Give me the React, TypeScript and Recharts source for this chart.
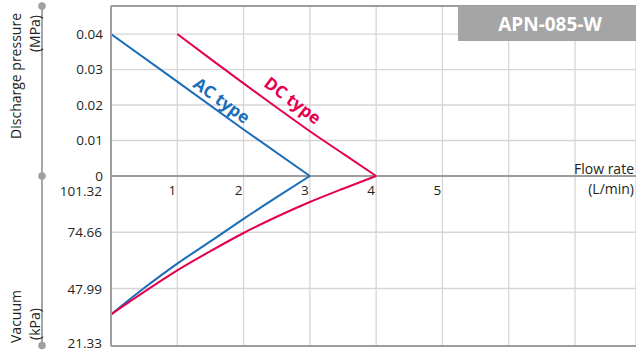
import React from 'react';
import { LineChart, Line, XAxis, YAxis, CartesianGrid, ReferenceLine } from 'recharts';

// flow rate (L/min)
const FLOW_TICKS = [0, 1, 2, 3, 4, 5, 6, 7];
const FLOW_LABELS = [1, 2, 3, 4, 5];
// discharge pressure (MPa) and vacuum (kPa) ticks
const PRESSURE_TICKS = [0, 0.01, 0.02, 0.03, 0.04];
const VACUUM_TICKS = [21.33, 47.99, 74.66, 101.32];

const acDischarge = [
  { q: 0, p: 0.04 },
  { q: 1, p: 0.0266 },
  { q: 2, p: 0.0131 },
  { q: 3, p: 0 },
];
const dcDischarge = [
  { q: 1, p: 0.04 },
  { q: 1.5, p: 0.033 },
  { q: 2, p: 0.0261 },
  { q: 2.5, p: 0.0193 },
  { q: 3, p: 0.0126 },
  { q: 3.5, p: 0.0063 },
  { q: 4, p: 0 },
];
const acVacuum = [
  { q: 0, v: 35.7 },
  { q: 0.5, v: 48.2 },
  { q: 1, v: 59.8 },
  { q: 1.5, v: 70.3 },
  { q: 2, v: 81.0 },
  { q: 2.5, v: 91.3 },
  { q: 3, v: 101.32 },
];
const dcVacuum = [
  { q: 0, v: 35.7 },
  { q: 0.5, v: 46.4 },
  { q: 1, v: 56.6 },
  { q: 1.5, v: 65.7 },
  { q: 2, v: 74.3 },
  { q: 2.5, v: 82.0 },
  { q: 3, v: 89.0 },
  { q: 3.5, v: 95.3 },
  { q: 4, v: 101.32 },
];

const W = 636;
const H = 351;
const FONT = "'Open Sans', sans-serif";
const TEXT = '#231f20';
const AXIS = '#9d9d9d';
const GRID = '#d6d6d6';
const AC = '#1a6eb8';
const DC = '#e4004f';

const FlowTick = (props: any) => {
  const { x, payload } = props;
  if (!FLOW_LABELS.includes(payload.value)) return <g />;
  return (
    <text x={x - 5} y={190} textAnchor="middle" dominantBaseline="central" fill={TEXT} fontSize={13.5} fontFamily={FONT}>
      {payload.value}
    </text>
  );
};

const VacuumTick = (props: any) => {
  const { y, payload } = props;
  // 101.32 sits under the 0 label, 21.33 is nudged off the bottom edge
  const shift = payload.value === 101.32 ? 15 : payload.value === 21.33 ? -2 : 0;
  return (
    <text x={102} y={y + shift} textAnchor="end" dominantBaseline="central" fill={TEXT} fontSize={13.5} fontFamily={FONT}>
      {payload.value.toFixed(2)}
    </text>
  );
};

const App: React.FC = () => {
  return (
    <div style={{ position: 'absolute', left: 0, top: 0, width: W, height: H, fontFamily: FONT, background: '#fff' }}>
      <LineChart width={W} height={H} margin={{ top: 6, right: 0, bottom: 4, left: 0 }}>
        <CartesianGrid yAxisId="p" stroke={GRID} strokeWidth={1.3} />
        <XAxis
          type="number"
          dataKey="q"
          domain={[0, 7.92]}
          allowDataOverflow
          ticks={FLOW_TICKS}
          interval={0}
          height={1}
          tickLine={false}
          axisLine={{ stroke: AXIS, strokeWidth: 2 }}
          tick={FlowTick}
        />
        <YAxis
          yAxisId="p"
          type="number"
          domain={[-0.0479, 0.0479]}
          allowDataOverflow
          ticks={PRESSURE_TICKS}
          interval={0}
          width={110}
          tickLine={false}
          tickSize={0}
          tickMargin={8}
          axisLine={{ stroke: AXIS, strokeWidth: 2 }}
          tickFormatter={(v: number) => (v === 0 ? '0' : v.toFixed(2))}
          tick={{ fill: TEXT, fontSize: 13.5, fontFamily: FONT }}
        />
        <YAxis
          yAxisId="v"
          type="number"
          domain={[20.75, 181.89]}
          allowDataOverflow
          ticks={VACUUM_TICKS}
          interval={0}
          width={1}
          tickLine={false}
          axisLine={false}
          tick={VacuumTick}
        />
        {VACUUM_TICKS.slice(1, 3).map((t) => (
          <ReferenceLine key={t} yAxisId="v" y={t} stroke={GRID} strokeWidth={1.3} />
        ))}
        <ReferenceLine yAxisId="p" y={0.0479} stroke={AXIS} strokeWidth={2} />
        <ReferenceLine yAxisId="p" y={0} stroke={AXIS} strokeWidth={2} />
        <Line yAxisId="p" data={acDischarge} dataKey="p" type="linear" stroke={AC} strokeWidth={2} dot={false} isAnimationActive={false} />
        <Line yAxisId="p" data={dcDischarge} dataKey="p" type="monotone" stroke={DC} strokeWidth={2} dot={false} isAnimationActive={false} />
        <Line yAxisId="v" data={acVacuum} dataKey="v" type="monotone" stroke={AC} strokeWidth={2} dot={false} isAnimationActive={false} />
        <Line yAxisId="v" data={dcVacuum} dataKey="v" type="monotone" stroke={DC} strokeWidth={2} dot={false} isAnimationActive={false} />
      </LineChart>

      <svg width={W} height={H} style={{ position: 'absolute', left: 0, top: 0, pointerEvents: 'none' }}>
        {/* left axis titles */}
        <line x1={42} y1={6} x2={42} y2={345.5} stroke="#a6a6a6" strokeWidth={2} />
        {[6, 176, 345.5].map((cy) => (
          <circle key={cy} cx={42} cy={cy} r={3.8} fill="#a0a0a0" />
        ))}
        <text transform="translate(15,13) rotate(-90)" textAnchor="end" dominantBaseline="central" fontSize={14} fill={TEXT} fontFamily={FONT}>
          Discharge pressure
        </text>
        <text transform="translate(34,15) rotate(-90)" textAnchor="end" dominantBaseline="central" fontSize={14} fill={TEXT} fontFamily={FONT}>
          (MPa)
        </text>
        <text transform="translate(15,343) rotate(-90)" textAnchor="start" dominantBaseline="central" fontSize={14} fill={TEXT} fontFamily={FONT}>
          Vacuum
        </text>
        <text transform="translate(34,340) rotate(-90)" textAnchor="start" dominantBaseline="central" fontSize={14} fill={TEXT} fontFamily={FONT}>
          (kPa)
        </text>

        {/* x axis title */}
        <text x={634} y={168} textAnchor="end" dominantBaseline="central" fontSize={14} fill={TEXT} fontFamily={FONT}>
          Flow rate
        </text>
        <text x={634} y={188} textAnchor="end" dominantBaseline="central" fontSize={14} fill={TEXT} fontFamily={FONT}>
          (L/min)
        </text>

        {/* series labels */}
        <text transform="translate(222,100) rotate(36)" textAnchor="middle" dominantBaseline="central" fontSize={17} fontWeight={700} fill={AC} fontFamily={FONT}>
          AC type
        </text>
        <text transform="translate(293,100) rotate(37)" textAnchor="middle" dominantBaseline="central" fontSize={17} fontWeight={700} fill={DC} fontFamily={FONT}>
          DC type
        </text>

        {/* model badge */}
        <rect x={458} y={6} width={178} height={35} fill="#a5a5a5" />
        <text x={550} y={24} textAnchor="middle" dominantBaseline="central" fontSize={19} fontWeight={700} fill="#fff" fontFamily={FONT}>
          APN-085-W
        </text>
      </svg>
    </div>
  );
};

export default App;
